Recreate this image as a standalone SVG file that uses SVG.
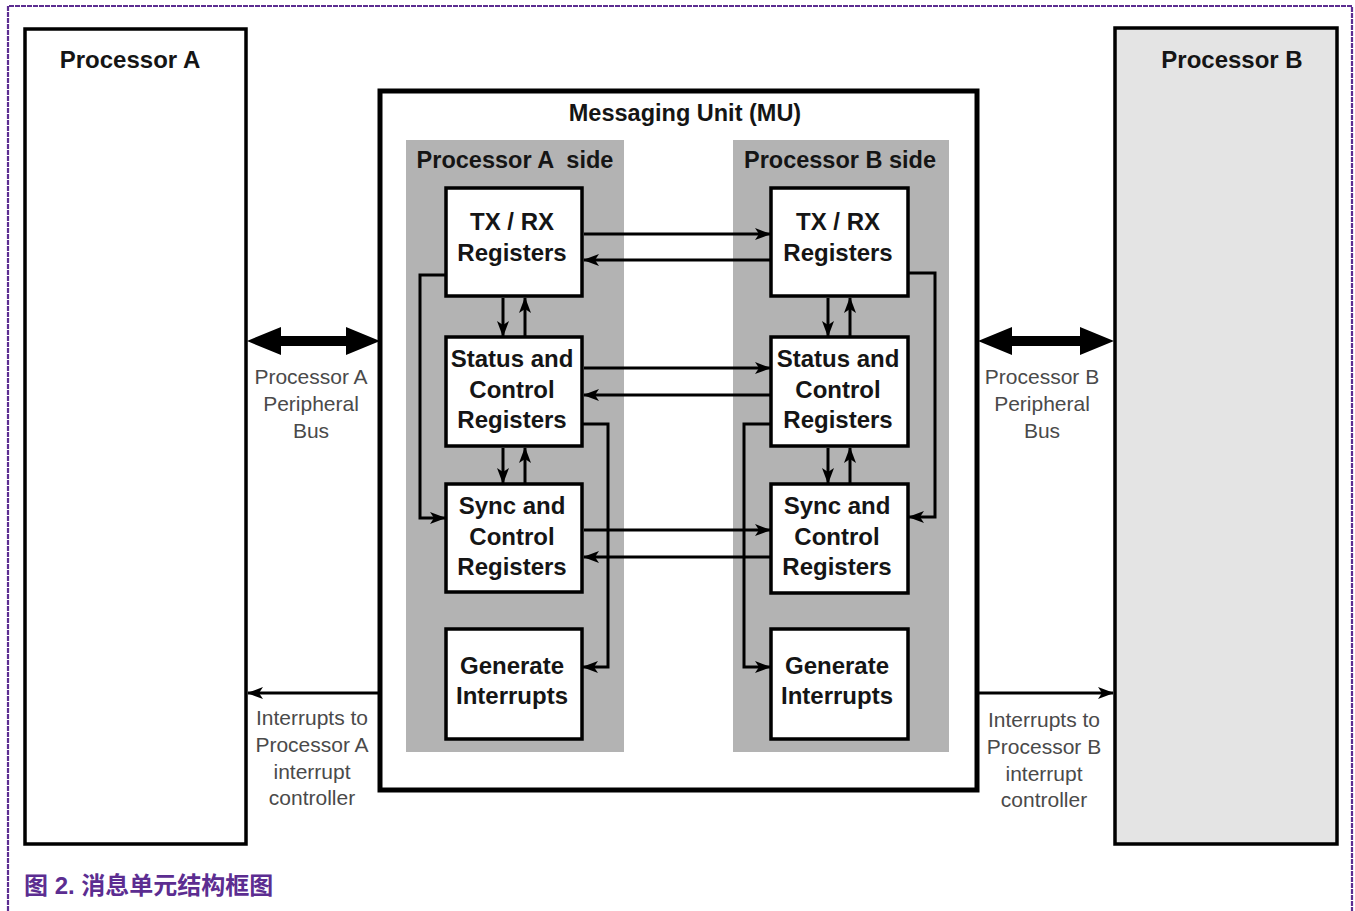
<svg xmlns="http://www.w3.org/2000/svg" width="1355" height="911" viewBox="0 0 1355 911">
<style>
.frame{fill:none;stroke:#5c2d91;stroke-width:2.2;stroke-dasharray:5 1}
.proc{stroke:#000;stroke-width:3.5}
.reg{fill:#fff;stroke:#000;stroke-width:3.5}
.panel{fill:#b3b3b3}
.t{font-family:"Liberation Sans",Arial,sans-serif;font-weight:bold;fill:#151515;text-anchor:middle}
.lbl{font-family:"Liberation Sans",Arial,sans-serif;font-size:21px;fill:#4a4a4a;text-anchor:middle}
.c{fill:none;stroke:#000;stroke-width:3}
.cap{font-family:"Liberation Sans","Noto Sans CJK SC",sans-serif;font-weight:bold;font-size:24px;fill:#5c2d91}
</style>
<defs>
<marker id="ah" viewBox="0 0 16 12" refX="15" refY="6" markerWidth="16" markerHeight="12" markerUnits="userSpaceOnUse" orient="auto">
<path d="M0,0 L16,6 L0,12 L4,6 z" fill="#000"/>
</marker>
</defs>
<rect width="1355" height="911" fill="#fff"/>
<path class="frame" d="M8,911 V6 H1352 V911"/>

<g id="processor-a">
<rect class="proc" x="25" y="29" width="221" height="815" fill="#fff"/>
<text class="t" x="130" y="68" font-size="24">Processor A</text>
</g>
<g id="processor-b">
<rect class="proc" x="1115" y="28" width="222" height="816" fill="#e4e4e4"/>
<text class="t" x="1232" y="68" font-size="24">Processor B</text>
</g>

<g id="mu">
<rect x="380" y="91" width="597" height="699" fill="#fff" stroke="#000" stroke-width="5"/>
<text class="t" x="685" y="121" font-size="23.5">Messaging Unit (MU)</text>
</g>
<g id="side-a">
<rect class="panel" x="406" y="140" width="218" height="612"/>
<text class="t" x="515" y="168" font-size="23.5" xml:space="preserve">Processor A  side</text>
</g>
<g id="side-b">
<rect class="panel" x="733" y="140" width="216" height="612"/>
<text class="t" x="840" y="168" font-size="23.5">Processor B side</text>
</g>

<g id="a-txrx"><rect class="reg" x="446" y="188" width="136" height="108"/>
<text class="t" x="512" y="230" font-size="24">TX / RX</text><text class="t" x="512" y="261" font-size="24">Registers</text></g>
<g id="a-status"><rect class="reg" x="446" y="337" width="136" height="109"/>
<text class="t" x="512" y="367" font-size="24">Status and</text><text class="t" x="512" y="398" font-size="24">Control</text><text class="t" x="512" y="428" font-size="24">Registers</text></g>
<g id="a-sync"><rect class="reg" x="446" y="484" width="136" height="108"/>
<text class="t" x="512" y="514" font-size="24">Sync and</text><text class="t" x="512" y="545" font-size="24">Control</text><text class="t" x="512" y="575" font-size="24">Registers</text></g>
<g id="a-gen"><rect class="reg" x="446" y="629" width="136" height="110"/>
<text class="t" x="512" y="674" font-size="24">Generate</text><text class="t" x="512" y="704" font-size="24">Interrupts</text></g>

<g id="b-txrx"><rect class="reg" x="771" y="188" width="137" height="108"/>
<text class="t" x="838" y="230" font-size="24">TX / RX</text><text class="t" x="838" y="261" font-size="24">Registers</text></g>
<g id="b-status"><rect class="reg" x="771" y="337" width="137" height="109"/>
<text class="t" x="838" y="367" font-size="24">Status and</text><text class="t" x="838" y="398" font-size="24">Control</text><text class="t" x="838" y="428" font-size="24">Registers</text></g>
<g id="b-sync"><rect class="reg" x="771" y="484" width="137" height="109"/>
<text class="t" x="837" y="514" font-size="24">Sync and</text><text class="t" x="837" y="545" font-size="24">Control</text><text class="t" x="837" y="575" font-size="24">Registers</text></g>
<g id="b-gen"><rect class="reg" x="771" y="629" width="137" height="110"/>
<text class="t" x="837" y="674" font-size="24">Generate</text><text class="t" x="837" y="704" font-size="24">Interrupts</text></g>

<g id="labels">
<text class="lbl" x="311" y="384">Processor A</text>
<text class="lbl" x="311" y="411">Peripheral</text>
<text class="lbl" x="311" y="438">Bus</text>
<text class="lbl" x="312" y="725">Interrupts to</text>
<text class="lbl" x="312" y="752">Processor A</text>
<text class="lbl" x="312" y="779">interrupt</text>
<text class="lbl" x="312" y="805">controller</text>
<text class="lbl" x="1042" y="384">Processor B</text>
<text class="lbl" x="1042" y="411">Peripheral</text>
<text class="lbl" x="1042" y="438">Bus</text>
<text class="lbl" x="1044" y="727">Interrupts to</text>
<text class="lbl" x="1044" y="754">Processor B</text>
<text class="lbl" x="1044" y="781">interrupt</text>
<text class="lbl" x="1044" y="807">controller</text>
</g>

<g id="connectors">
<path d="M247,341 L281,327 L281,336 L346,336 L346,327 L380,341 L346,355 L346,346 L281,346 L281,355 Z" fill="#000"/>
<path d="M978,341 L1012,327 L1012,336 L1080,336 L1080,327 L1114,341 L1080,355 L1080,346 L1012,346 L1012,355 Z" fill="#000"/>
<line class="c" x1="380" y1="693" x2="248" y2="693" marker-end="url(#ah)"/>
<line class="c" x1="977" y1="693" x2="1113" y2="693" marker-end="url(#ah)"/>
<line class="c" x1="584" y1="234" x2="770" y2="234" marker-end="url(#ah)"/>
<line class="c" x1="770" y1="260" x2="584" y2="260" marker-end="url(#ah)"/>
<line class="c" x1="584" y1="368" x2="770" y2="368" marker-end="url(#ah)"/>
<line class="c" x1="770" y1="395" x2="584" y2="395" marker-end="url(#ah)"/>
<line class="c" x1="584" y1="530" x2="770" y2="530" marker-end="url(#ah)"/>
<line class="c" x1="770" y1="557" x2="584" y2="557" marker-end="url(#ah)"/>
<line class="c" x1="503" y1="298" x2="503" y2="336" marker-end="url(#ah)"/>
<line class="c" x1="525" y1="336" x2="525" y2="298" marker-end="url(#ah)"/>
<line class="c" x1="503" y1="448" x2="503" y2="483" marker-end="url(#ah)"/>
<line class="c" x1="525" y1="483" x2="525" y2="448" marker-end="url(#ah)"/>
<line class="c" x1="828" y1="298" x2="828" y2="336" marker-end="url(#ah)"/>
<line class="c" x1="850" y1="336" x2="850" y2="298" marker-end="url(#ah)"/>
<line class="c" x1="828" y1="448" x2="828" y2="483" marker-end="url(#ah)"/>
<line class="c" x1="850" y1="483" x2="850" y2="448" marker-end="url(#ah)"/>
<path class="c" d="M445,275 H420 V518 H445" marker-end="url(#ah)"/>
<path class="c" d="M909,273 H935 V517 H909" marker-end="url(#ah)"/>
<path class="c" d="M583,424 H608 V667 H583" marker-end="url(#ah)"/>
<path class="c" d="M770,424 H744 V667 H770" marker-end="url(#ah)"/>
</g>

<text class="cap" x="24" y="894">图 2. 消息单元结构框图</text>
</svg>
